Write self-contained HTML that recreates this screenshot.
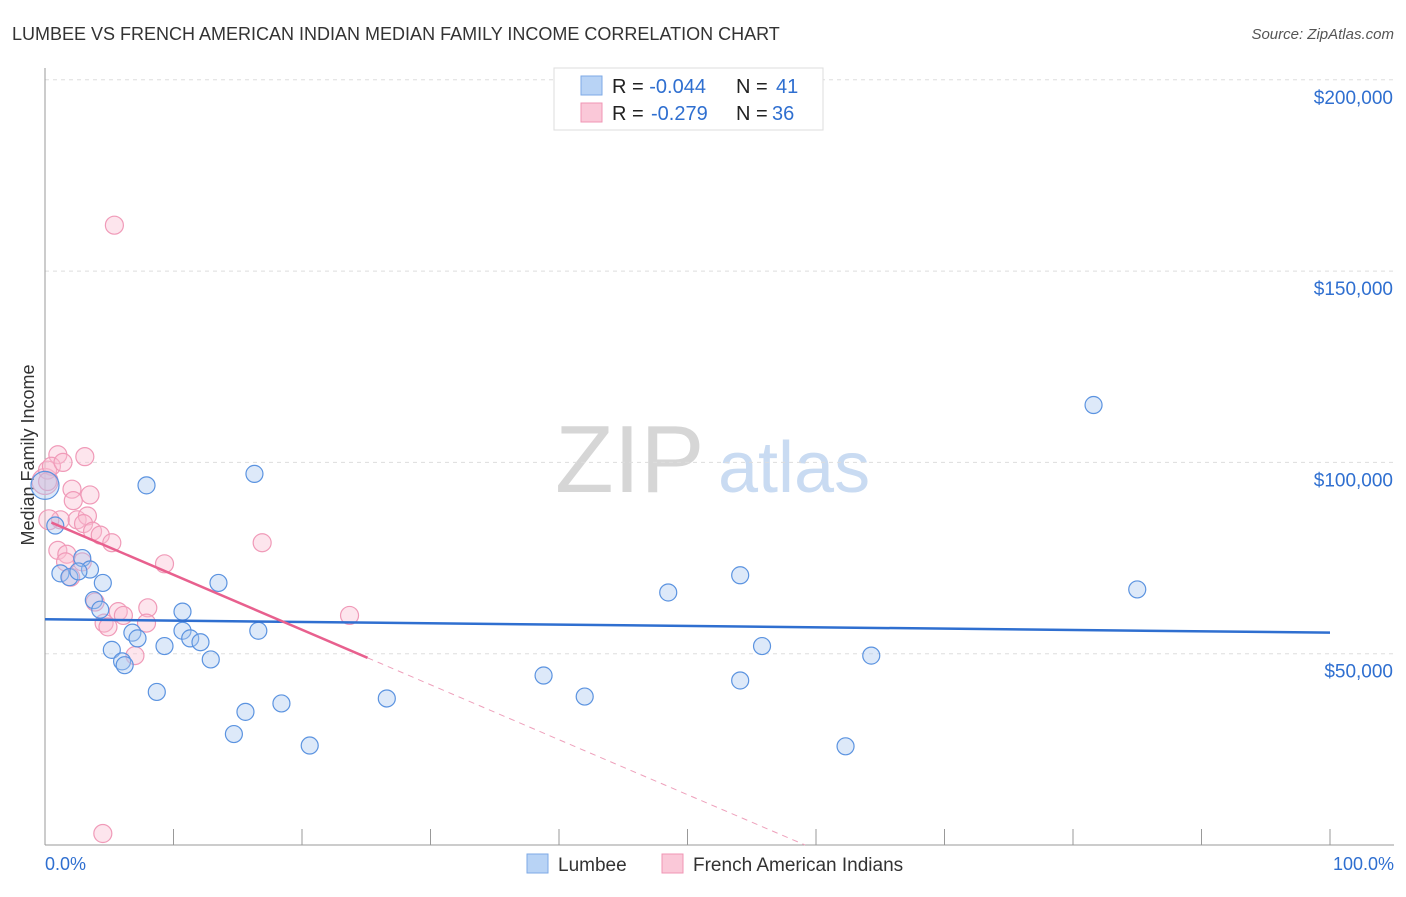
<!DOCTYPE html>
<html><head><meta charset="utf-8"><style>
body{margin:0;background:#fff;font-family:"Liberation Sans",sans-serif;}
svg text{font-family:"Liberation Sans",sans-serif;}
</style></head><body>
<svg id="c" width="1406" height="892">
<text x="12" y="40" font-size="18" fill="#333">LUMBEE VS FRENCH AMERICAN INDIAN MEDIAN FAMILY INCOME CORRELATION CHART</text>
<text x="1394" y="39" font-size="15" fill="#555" font-style="italic" text-anchor="end">Source: ZipAtlas.com</text>
<text x="555" y="492" font-size="96" fill="#d6d6d6" font-family="Liberation Serif">ZIP</text>
<text x="718" y="492" font-size="72" fill="#c9dbf2">atlas</text>
<text transform="translate(34,455) rotate(-90)" font-size="18" fill="#333" text-anchor="middle">Median Family Income</text>
<g id="grid"></g><g id="pts"></g><g id="lines"></g>
<g>
<rect x="554" y="68" width="269" height="62" fill="#fff" stroke="#ddd"/>
<rect x="581" y="76" width="21" height="19" fill="#b8d3f5" stroke="#7eaae6"/>
<rect x="581" y="103" width="21" height="19" fill="#fac8d8" stroke="#f096b4"/>
<text x="612" y="93" font-size="20" fill="#222">R = <tspan fill="#2f6fd0">-0.044</tspan><tspan x="736">N = </tspan><tspan fill="#2f6fd0" x="776">41</tspan></text>
<text x="612" y="120" font-size="20" fill="#222">R = <tspan fill="#2f6fd0" x="651">-0.279</tspan><tspan x="736">N = </tspan><tspan fill="#2f6fd0" x="772">36</tspan></text>
</g>
<text x="45" y="870" font-size="18" fill="#2f6fd0">0.0%</text>
<text x="1394" y="870" font-size="18" fill="#2f6fd0" text-anchor="end">100.0%</text>
<rect x="527" y="854" width="21" height="19" fill="#b8d3f5" stroke="#7eaae6"/>
<text x="558" y="871" font-size="19" fill="#333">Lumbee</text>
<rect x="662" y="854" width="21" height="19" fill="#fac8d8" stroke="#f096b4"/>
<text x="693" y="871" font-size="19" fill="#333">French American Indians</text>
</svg>
<script>
const yTicks=[50000,100000,150000,200000];
const yTickLabels=["$50,000","$100,000","$150,000","$200,000"];
const lumbeeX=[0,0.8,1.2,1.9,2.9,3.5,4.5,3.8,4.3,5.2,6.0,6.2,6.8,7.2,7.9,8.7,9.3,10.7,10.7,11.3,12.1,12.9,13.5,14.7,15.6,16.3,16.6,18.4,20.6,26.6,38.8,42.0,48.5,54.1,54.1,55.8,62.3,64.3,81.6,85.0,2.6];
const lumbeeY=[94000,83500,71000,70000,75000,72000,68500,64000,61500,51000,48000,47000,55500,54000,94000,40000,52000,61000,56000,54000,53000,48500,68500,29000,34800,97000,56000,37000,26000,38300,44300,38800,66000,70500,43000,52000,25800,49500,115000,66800,71500];
const frenchX=[5.4,4.5,0,1.0,0.2,0.5,1.4,3.1,0.2,2.1,3.5,2.2,1.2,2.5,3.3,3.0,3.7,4.3,5.2,1.0,1.7,1.6,2.9,2.0,9.3,16.9,3.9,5.7,6.1,8.0,7.9,4.6,4.9,7.0,23.7,0.3];
const frenchY=[162000,3000,95000,102000,98000,99000,100000,101500,95000,93000,91500,90000,85000,85000,86000,84000,82000,81000,79000,77000,76000,74000,74000,70000,73500,79000,63500,61000,60000,62000,58000,58000,57000,49500,60000,85000];
const lumbeeTrend=[59000,55500];
const frenchTrend=[85000,-58700];
const NS="http://www.w3.org/2000/svg";
const X0=45,X1=1330,Y0=845,PXPER=191.3/50000;
const sx=v=>X0+(X1-X0)*v/100, sy=v=>Y0-v*PXPER;
function mk(tag,attrs,parent){const e=document.createElementNS(NS,tag);for(const k in attrs)e.setAttribute(k,attrs[k]);parent.appendChild(e);return e;}
const grid=document.getElementById('grid');
yTicks.forEach((t,i)=>{
 const l=mk('line',{x1:X0,x2:1394,y1:sy(t),y2:sy(t),stroke:'#ddd','stroke-dasharray':'4,4'},grid);
 
 
 const tx=mk('text',{x:1393,y:sy(t)+24,'font-size':19,fill:'#2f6fd0','text-anchor':'end'},grid);
 tx.textContent=yTickLabels[i];
 
 
});
const ax=mk('line',{x1:X0,x2:X0,y1:68,y2:845,stroke:'#999'},grid);


const bx=mk('line',{x1:X0,x2:1394,y1:845,y2:845,stroke:'#999'},grid);


for(let i=0;i<=10;i++){const t=mk('line',{x1:sx(i*10),x2:sx(i*10),y1:829,y2:845,stroke:'#999'},grid);
 
 }
const pts=document.getElementById('pts');
frenchX.forEach((x,i)=>{const r=(i==2)?13:(i==35?10:9);const c=mk('circle',{cx:sx(x),cy:sy(frenchY[i]),r:r,fill:'rgba(250,190,210,0.4)',stroke:'#f09ab8','stroke-width':1.2},pts);
 
 });
lumbeeX.forEach((x,i)=>{const r=i==0?14:8.5;const c=mk('circle',{cx:sx(x),cy:sy(lumbeeY[i]),r:r,fill:'rgba(170,200,240,0.4)',stroke:'#5b93e0','stroke-width':1.2},pts);
 
 });
const lines=document.getElementById('lines');
const lb=mk('line',{x1:sx(0),y1:sy(lumbeeTrend[0]),x2:sx(100),y2:sy(lumbeeTrend[1]),stroke:'#2f6fd0','stroke-width':2.5},lines);


const fy=x=>frenchTrend[0]+(frenchTrend[1]-frenchTrend[0])*x/100;
const lf=mk('line',{x1:sx(0.5),y1:sy(fy(0.5)),x2:sx(25.1),y2:sy(fy(25.1)),stroke:'#e8608e','stroke-width':2.5},lines);


const xe=frenchTrend[0]/(frenchTrend[0]-frenchTrend[1])*100;
const ld=mk('line',{x1:sx(25.1),y1:sy(fy(25.1)),x2:sx(xe),y2:sy(0),stroke:'#eea0bb','stroke-width':1,'stroke-dasharray':'6,5'},lines);


</script>
</body></html>
